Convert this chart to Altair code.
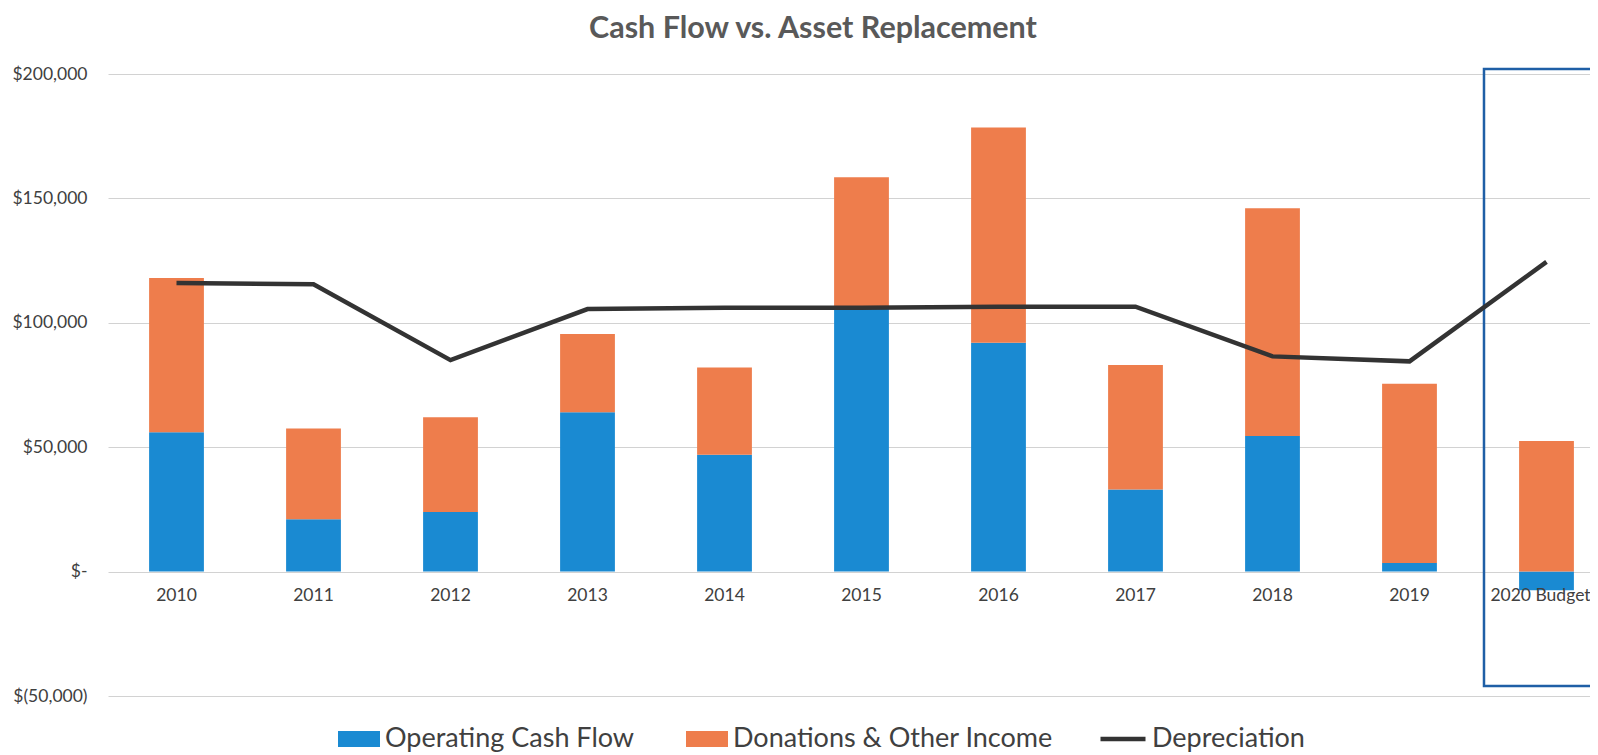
import altair as alt
import pandas as pd

categories = ["2010", "2011", "2012", "2013", "2014", "2015", "2016",
              "2017", "2018", "2019", "2020 Budget"]
operating_cash_flow = [56000, 21000, 24000, 64000, 47000, 105500, 92000,
                       33000, 54500, 3500, -7500]
donations_other = [62000, 36500, 38000, 31500, 35000, 53000, 86500,
                   50000, 91500, 72000, 52500]
depreciation = [116000, 115500, 85000, 105500, 106000, 106000, 106500,
                106500, 86500, 84500, 124500]
series_names = ["Operating Cash Flow", "Donations & Other Income"]
line_name = "Depreciation"
y_ticks = [-50000, 0, 50000, 100000, 150000, 200000]
box_top = [202000]
box_bottom = [-46000]

BLUE = "#1a8ad2"
ORANGE = "#ee7d4c"
LINE = "#333333"
BOX = "#1f5fa6"
TXT = "#404040"
FONT = "Lato"

n = len(categories)
bars_df = pd.DataFrame({
    "cat": categories * 2,
    "series": [series_names[0]] * n + [series_names[1]] * n,
    "value": operating_cash_flow + donations_other,
    "order": [0] * n + [1] * n,
})
line_df = pd.DataFrame({"cat": categories, "value": depreciation,
                        "series": [line_name] * n})
box_df = pd.DataFrame({"cat": [categories[-1]], "top": box_top,
                       "bottom": box_bottom})
label_df = pd.DataFrame({"cat": categories, "zero": [0] * n,
                         "last": [False] * (n - 1) + [True]})

# band scale: last category partly past the right edge (as in the cropped original)
x_scale = alt.Scale(domain=categories, paddingInner=0.6, paddingOuter=0.2088,
                    align=0.7185)
y_scale = alt.Scale(domain=[-50000, 200000], nice=False, zero=False)


def xenc():
    return alt.X("cat:N", scale=x_scale, axis=None)


label_expr = ("datum.value == 0 ? '$-\u2002\u2009' : (datum.value < 0 ? "
              "'$(' + format(-datum.value, ',') + ')' : "
              "'$' + format(datum.value, ',') + '\u2009')")

y_axis = alt.Axis(values=y_ticks, labelExpr=label_expr, grid=True,
                  gridColor="#d2d2d2", gridWidth=1, domain=False, ticks=False,
                  labelPadding=21, labelFontSize=17.5, labelFont=FONT,
                  labelColor=TXT, title=None)

box = alt.Chart(box_df).mark_rect(
    fillOpacity=0, stroke=BOX, strokeWidth=2.5, xOffset=-62.5, clip=False
).encode(
    x=xenc(), x2=alt.value(1700),
    y=alt.Y("top:Q", scale=y_scale, axis=y_axis), y2="bottom:Q",
)

bars = alt.Chart(bars_df).mark_bar().encode(
    x=xenc(),
    y=alt.Y("value:Q", scale=y_scale, axis=y_axis, stack="zero"),
    color=alt.Color(
        "series:N",
        scale=alt.Scale(domain=series_names, range=[BLUE, ORANGE]),
        legend=alt.Legend(
            title=None, orient="none", legendX=230, legendY=644,
            direction="horizontal",
            symbolType="M-1,-0.381H1V0.381H-1Z", symbolSize=1764,
            symbolStrokeWidth=0, labelFontSize=27, labelFont=FONT,
            labelColor=TXT, labelOffset=5, columnPadding=51, labelLimit=600,
        ),
    ),
    order=alt.Order("order:Q"),
)

line = alt.Chart(line_df).mark_line(strokeWidth=4.5).encode(
    x=xenc(),
    y=alt.Y("value:Q", scale=y_scale),
    stroke=alt.Stroke(
        "series:N",
        scale=alt.Scale(domain=[line_name], range=[LINE]),
        legend=alt.Legend(
            title=None, orient="none", legendX=990, legendY=640,
            direction="horizontal", symbolType="stroke", symbolSize=2025,
            symbolStrokeWidth=4.5, labelFontSize=27, labelFont=FONT,
            labelColor=TXT, labelOffset=4, labelLimit=600,
        ),
    ),
)

labels = alt.Chart(label_df).transform_filter("!datum.last").mark_text(
    baseline="alphabetic", dy=29, fontSize=17.5, font=FONT, color=TXT
).encode(
    x=xenc(),
    y=alt.Y("zero:Q", scale=y_scale),
    text="cat:N",
)

last_label = alt.Chart(label_df).transform_filter("datum.last").mark_text(
    baseline="alphabetic", dy=29, dx=-6, fontSize=17.5, font=FONT, color=TXT
).encode(
    x=xenc(),
    y=alt.Y("zero:Q", scale=y_scale),
    text="cat:N",
)

chart = alt.layer(box, bars, line, labels, last_label).properties(
    width=1482, height=622,
    padding={"left": 100, "top": 66, "right": 0, "bottom": 59},
    autosize=alt.AutoSizeParams(type="none"),
    title=alt.TitleParams(
        "Cash Flow vs. Asset Replacement", font=FONT, fontSize=30.5,
        fontWeight="bold", color="#595959", anchor="middle", dx=-36,
        offset=21,
    ),
).configure_view(stroke=None)

chart.save("out.html", embed_options={"renderer": "svg", "actions": False})
